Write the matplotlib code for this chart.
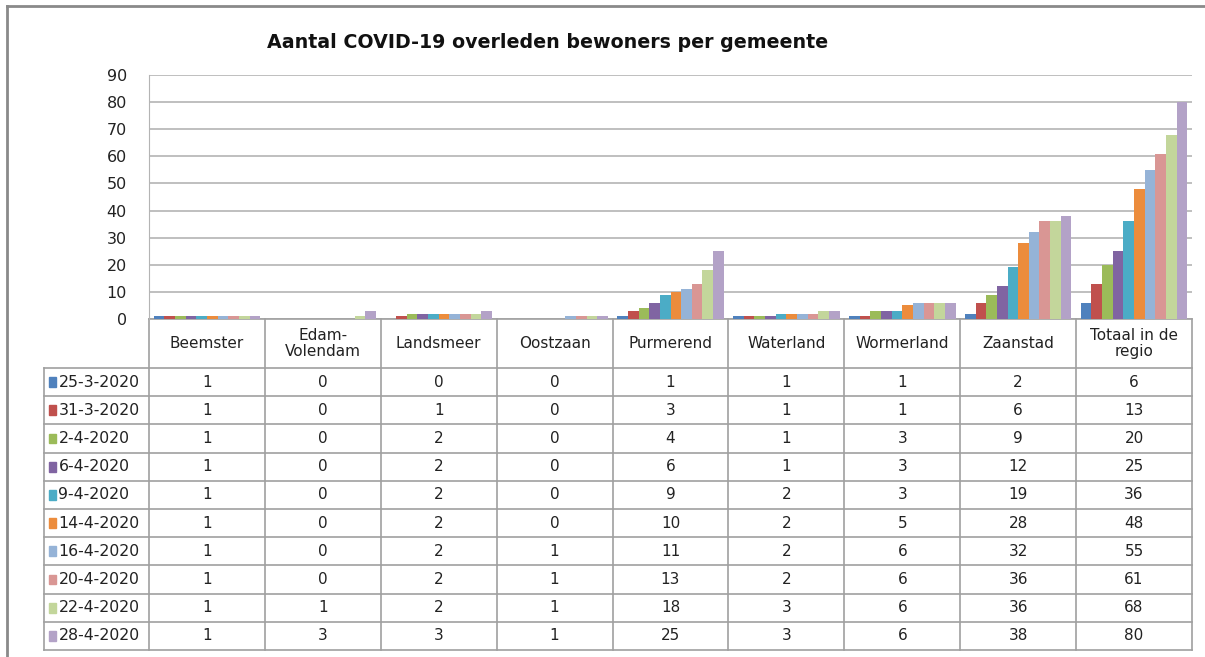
import numpy as np
import matplotlib.pyplot as plt
from matplotlib.lines import Line2D
from matplotlib.patches import Rectangle

gemeenten = ["Beemster", "Edam-\nVolendam", "Landsmeer", "Oostzaan", "Purmerend",
             "Waterland", "Wormerland", "Zaanstad", "Totaal in de\nregio"]
datums = ["25-3-2020", "31-3-2020", "2-4-2020", "6-4-2020", "9-4-2020",
          "14-4-2020", "16-4-2020", "20-4-2020", "22-4-2020", "28-4-2020"]

d_25_3 = [1, 0, 0, 0, 1, 1, 1, 2, 6]
d_31_3 = [1, 0, 1, 0, 3, 1, 1, 6, 13]
d_2_4 = [1, 0, 2, 0, 4, 1, 3, 9, 20]
d_6_4 = [1, 0, 2, 0, 6, 1, 3, 12, 25]
d_9_4 = [1, 0, 2, 0, 9, 2, 3, 19, 36]
d_14_4 = [1, 0, 2, 0, 10, 2, 5, 28, 48]
d_16_4 = [1, 0, 2, 1, 11, 2, 6, 32, 55]
d_20_4 = [1, 0, 2, 1, 13, 2, 6, 36, 61]
d_22_4 = [1, 1, 2, 1, 18, 3, 6, 36, 68]
d_28_4 = [1, 3, 3, 1, 25, 3, 6, 38, 80]
reeksen = [d_25_3, d_31_3, d_2_4, d_6_4, d_9_4, d_14_4, d_16_4, d_20_4, d_22_4, d_28_4]

kleuren = ["#4F81BD", "#C0504D", "#9BBB59", "#8064A2", "#4BACC6",
           "#EC8C3C", "#95B3D7", "#D99694", "#C3D69B", "#B3A2C7"]

W, H = 1205, 657
fig = plt.figure(figsize=(W / 100, H / 100), dpi=100)
ax = fig.add_axes([149 / W, 1 - 319 / H, (1192 - 149) / W, (319 - 75) / H])

# staven
n = len(reeksen)
groep = 0.92
bw = groep / n
x = np.arange(len(gemeenten))
for i, (r, c) in enumerate(zip(reeksen, kleuren)):
    ax.bar(x - groep / 2 + bw * (i + 0.5), r, width=bw, color=c, edgecolor="none", zorder=3)

ax.set_xlim(-0.5, len(gemeenten) - 0.5)
ax.set_ylim(0, 90)
ax.set_yticks(range(0, 91, 10))
ax.yaxis.grid(True, color="#b4b4b4", lw=1.2)
ax.set_axisbelow(True)
ax.set_xticks([])
for s in ["top", "right", "bottom"]:
    ax.spines[s].set_visible(False)
ax.spines["left"].set_color("#b4b4b4")
ax.tick_params(axis="y", length=0, pad=16, labelsize=11.5, labelcolor="#222222")

fig.text(548 / W, 1 - 43 / H, "Aantal COVID-19 overleden bewoners per gemeente",
         ha="center", va="center", fontsize=13.7, fontweight="bold", color="#111111")

# tabel onder de grafiek (x in data, y in axes-fractie)
tr = ax.get_xaxis_transform()
ph = 319 - 75
kop = 49 / ph
rij = 28.2 / ph
lijn = dict(color="#a0a0a0", lw=1.2, transform=tr, clip_on=False)
links = -0.5 - (149 - 44) / ((1192 - 149) / len(gemeenten))
onder = -kop - rij * n

# horizontale lijnen
ax.add_line(Line2D([-0.5, len(gemeenten) - 0.5], [0, 0], **lijn))
for k in range(n + 1):
    yy = -kop - rij * k
    ax.add_line(Line2D([links, len(gemeenten) - 0.5], [yy, yy], **lijn))
# verticale lijnen
ax.add_line(Line2D([links, links], [-kop, onder], **lijn))
for k in range(len(gemeenten) + 1):
    xx = k - 0.5
    ax.add_line(Line2D([xx, xx], [0, onder], **lijn))

for j, g in enumerate(gemeenten):
    ax.text(j, -kop / 2, g, transform=tr, ha="center", va="center", fontsize=11,
            color="#222222", linespacing=1.15)

for i, (d, r, c) in enumerate(zip(datums, reeksen, kleuren)):
    yc = -kop - rij * (i + 0.5)
    ax.add_patch(Rectangle((links + 0.04, yc - 0.02), 0.065, 0.04, transform=tr,
                           color=c, clip_on=False))
    ax.text(links + 0.125, yc, d, transform=tr, ha="left", va="center", fontsize=11.3,
            color="#222222")
    for j, v in enumerate(r):
        ax.text(j, yc, str(v), transform=tr, ha="center", va="center", fontsize=11,
                color="#222222")

# kader
fig.add_artist(Line2D([7 / W, 7 / W], [0, 1 - 6 / H], color="#8a8a8a", lw=2))
fig.add_artist(Line2D([7 / W, 1], [1 - 6 / H, 1 - 6 / H], color="#8a8a8a", lw=2))

fig.savefig("out.png", dpi=100)
